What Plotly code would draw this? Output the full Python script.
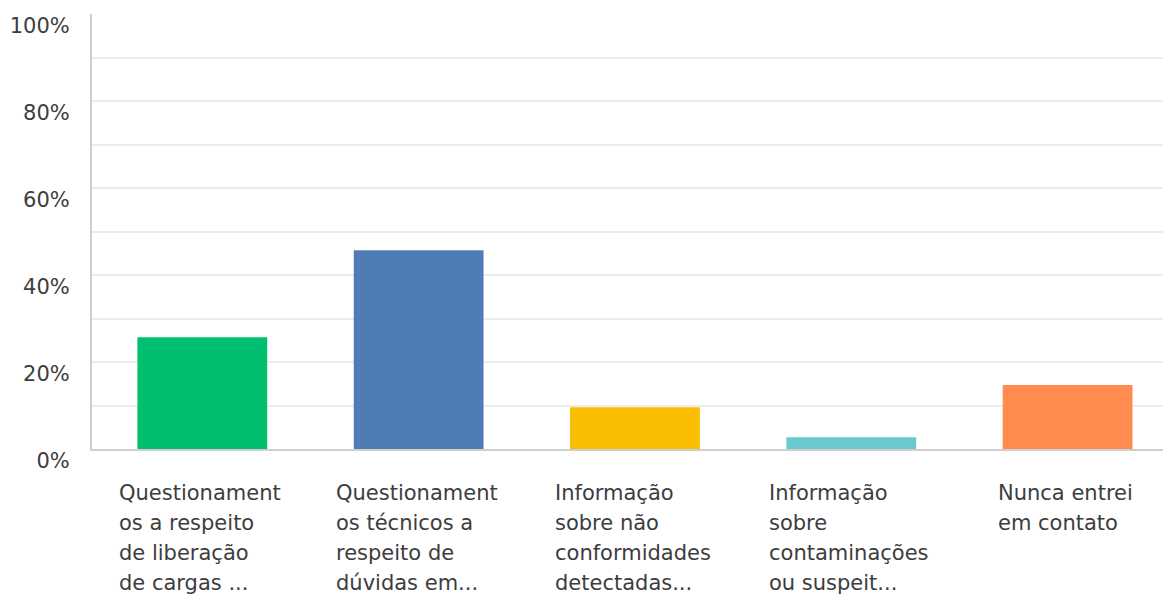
import plotly.graph_objects as go

categories = [
    "Questionament<br>os a respeito<br>de liberação<br>de cargas ...",
    "Questionament<br>os técnicos a<br>respeito de<br>dúvidas em...",
    "Informação<br>sobre não<br>conformidades<br>detectadas...",
    "Informação<br>sobre<br>contaminações<br>ou suspeit...",
    "Nunca entrei<br>em contato",
]
values = [25.7, 45.7, 9.6, 2.7, 14.7]
colors = ["#00BF6F", "#507CB6", "#F9BE00", "#6BC8CD", "#FF8B4F"]
ytick_vals = [0, 20, 40, 60, 80, 100]
ytick_text = ["0%", "20%", "40%", "60%", "80%", "100%"]

FONT = "DejaVu Sans"
TXT = "#3d3d3d"
x_idx = list(range(len(categories)))

fig = go.Figure(
    go.Bar(
        x=x_idx,
        y=values,
        width=0.6,
        marker=dict(color=colors, line=dict(width=0)),
        hoverinfo="skip",
    )
)

for i, lab in enumerate(categories):
    styled = "<br>".join(
        f"<span style='font-size:21px'>{ln}</span>" for ln in lab.split("<br>")
    )
    fig.add_annotation(
        x=i, y=0, xref="x", yref="paper",
        text=styled, showarrow=False,
        xanchor="center", yanchor="top", align="left",
        yshift=-30, xshift=-2,
        font=dict(family=FONT, size=23, color=TXT),
    )

fig.update_layout(
    width=1163, height=595,
    margin=dict(l=92, r=0, t=14, b=146, autoexpand=False),
    paper_bgcolor="white", plot_bgcolor="white",
    showlegend=False,
    font=dict(family=FONT, color=TXT, size=21),
    xaxis=dict(
        range=[-0.51, 4.441], showticklabels=False, showgrid=False,
        zeroline=False, showline=True, linecolor="#cfcfcf", linewidth=2,
        fixedrange=True, automargin=False,
    ),
    yaxis=dict(
        range=[0, 100], tickvals=ytick_vals, ticktext=ytick_text,
        showgrid=True, gridcolor="#ececec", gridwidth=1.5,
        minor=dict(dtick=10, showgrid=True, gridcolor="#ececec", gridwidth=1.5),
        zeroline=False, showline=True, linecolor="#cfcfcf", linewidth=2,
        ticks="", ticklabelshift=12, ticklabelstandoff=16,
        tickfont=dict(family=FONT, size=21, color=TXT),
        fixedrange=True, automargin=False,
    ),
)

fig.write_html(
    "out.html",
    config={"displayModeBar": False},
    post_script="document.body.style.margin='0';document.body.style.overflow='hidden';",
)
